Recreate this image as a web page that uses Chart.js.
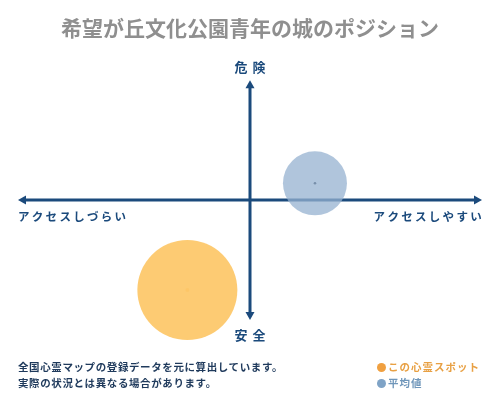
<!DOCTYPE html>
<html>
<head>
<meta charset="utf-8">
<script src="https://cdn.jsdelivr.net/npm/chart.js@4"></script>
<style>
  body { margin: 0; background: #fff; }
  #wrap { position: relative; width: 500px; height: 400px; }
  #chart { position: absolute; left: 0; top: 0; }
  .note { position: absolute; left: 18px; top: 359px; font: bold 10.5px "Noto Sans CJK JP", sans-serif; color: #1f3a5c; line-height: 16px; letter-spacing: 0.6px; }
  .legend { position: absolute; left: 377px; top: 359px; font: bold 10.5px "Noto Sans CJK JP", sans-serif; line-height: 16px; letter-spacing: 1px; }
  .legend span.dot { display: inline-block; width: 9px; height: 9px; border-radius: 50%; margin-right: 2px; vertical-align: -1px; }
</style>
</head>
<body>
<div id="wrap">
  <canvas id="chart" width="500" height="400"></canvas>
  <div class="note">全国心霊マップの登録データを元に算出しています。<br>実際の状況とは異なる場合があります。</div>
  <div class="legend">
    <div style="color:#e8a043"><span class="dot" style="background:#f0a040"></span>この心霊スポット</div>
    <div style="color:#6f96ba"><span class="dot" style="background:#7fa3c6"></span>平均値</div>
  </div>
</div>
<script>
// 値 (x: アクセス, y: 危険度, r: 大きさ)
const seriesNames = ['この心霊スポット', '平均値'];
const accessValues = [-27, 28];
const dangerValues = [-75, 14];
const bubbleSizes = [50, 32];

const axisTop = '危険';
const axisBottom = '安全';
const axisLeft = 'アクセスしづらい';
const axisRight = 'アクセスしやすい';

const navy = '#1b4a7c';

// 十字の矢印とラベル
const crossAxes = {
  id: 'crossAxes',
  beforeDatasetsDraw(chart) {
    const { ctx, scales: { x, y } } = chart;
    const x0 = x.getPixelForValue(0), y0 = y.getPixelForValue(0);
    const l = x.getPixelForValue(x.min), r = x.getPixelForValue(x.max);
    const t = y.getPixelForValue(y.max), b = y.getPixelForValue(y.min);
    ctx.save();
    ctx.strokeStyle = navy;
    ctx.fillStyle = navy;
    ctx.lineWidth = 3;
    ctx.beginPath();
    ctx.moveTo(l + 4, y0); ctx.lineTo(r - 4, y0);
    ctx.moveTo(x0, t + 4); ctx.lineTo(x0, b - 4);
    ctx.stroke();
    const head = (px, py, dx, dy) => {
      ctx.beginPath();
      ctx.moveTo(px, py);
      ctx.lineTo(px - dx * 8 - dy * 4.5, py - dy * 8 - dx * 4.5);
      ctx.lineTo(px - dx * 8 + dy * 4.5, py - dy * 8 + dx * 4.5);
      ctx.closePath();
      ctx.fill();
    };
    head(r, y0, 1, 0);
    head(l, y0, -1, 0);
    head(x0, t, 0, -1);
    head(x0, b, 0, 1);

    ctx.textBaseline = 'middle';
    ctx.font = 'bold 13px "Noto Sans CJK JP", sans-serif';
    ctx.letterSpacing = '5px';
    ctx.textAlign = 'center';
    ctx.fillText(axisTop, x0 + 2.5, t - 13);
    ctx.fillText(axisBottom, x0 + 2.5, b + 15);
    ctx.font = 'bold 11.5px "Noto Sans CJK JP", sans-serif';
    ctx.letterSpacing = '2.3px';
    ctx.textAlign = 'left';
    ctx.fillText(axisLeft, l, y0 + 17);
    ctx.textAlign = 'right';
    ctx.fillText(axisRight, r + 2, y0 + 17);
    ctx.restore();
  }
};

const points = accessValues.map((v, i) => ({ x: v, y: dangerValues[i], r: bubbleSizes[i] }));

new Chart(document.getElementById('chart'), {
  type: 'bubble',
  data: {
    datasets: [{
      label: seriesNames[0],
      data: [points[0]],
      backgroundColor: 'rgba(253, 200, 108, 0.95)',
      borderWidth: 0,
      clip: false
    }, {
      label: seriesNames[1],
      data: [points[1]],
      backgroundColor: 'rgba(150, 178, 208, 0.75)',
      borderWidth: 0,
      clip: false
    }, {
      type: 'scatter',
      label: 'centers',
      data: points.map(p => ({ x: p.x, y: p.y })),
      pointRadius: [2, 1.3],
      pointBackgroundColor: ['#f0a030', '#1e2a3a'],
      pointBorderWidth: 0,
      clip: false
    }]
  },
  options: {
    responsive: false,
    animation: false,
    layout: { autoPadding: false, padding: { left: 18, right: 18, bottom: 80 } },
    scales: {
      x: { display: false, min: -100, max: 100 },
      y: { display: false, min: -100, max: 100 }
    },
    plugins: {
      legend: { display: false },
      tooltip: { enabled: false },
      title: {
        display: true,
        text: '希望が丘文化公園青年の城のポジション',
        color: '#8f8f8f',
        font: { size: 21, weight: 'bold', family: '"Noto Sans CJK JP", sans-serif' },
        padding: { top: 15, bottom: 40 }
      }
    }
  },
  plugins: [crossAxes]
});
</script>
</body>
</html>
